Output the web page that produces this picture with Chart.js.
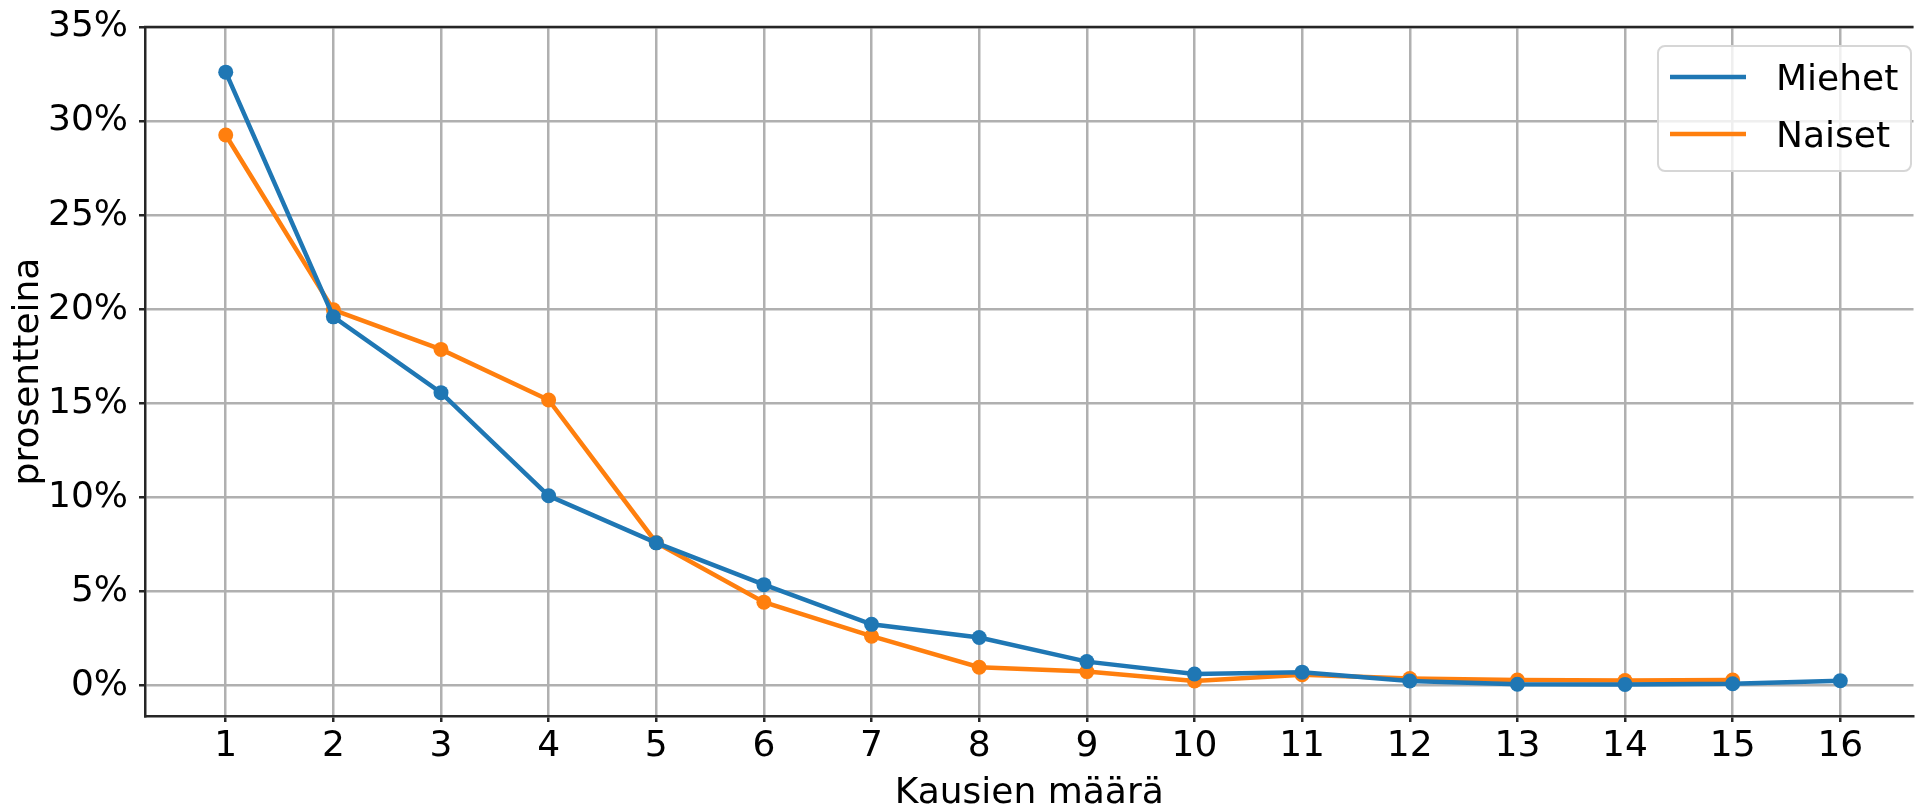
<!DOCTYPE html>
<html>
<head>
<meta charset="utf-8">
<script src="https://cdn.jsdelivr.net/npm/chart.js@4.4.1/dist/chart.umd.min.js"></script>
<style>
  html, body { margin: 0; padding: 0; background: #fff; }
  canvas { display: block; }
</style>
</head>
<body>
<canvas id="kausiChart" width="1921" height="810"></canvas>
<script>
// Kausien määrä (x) ja osuus prosentteina (y)
const kaudet = [1, 2, 3, 4, 5, 6, 7, 8, 9, 10, 11, 12, 13, 14, 15, 16];
const miehet = [32.6, 19.6, 15.57, 10.09, 7.59, 5.37, 3.26, 2.56, 1.28, 0.62, 0.72, 0.25, 0.08, 0.07, 0.1, 0.26];
const naiset = [29.26, 19.97, 17.87, 15.18, 7.6, 4.44, 2.63, 0.98, 0.75, 0.25, 0.58, 0.38, 0.3, 0.27, 0.3];
const yTicks = [0, 5, 10, 15, 20, 25, 30, 35];
const seriesLabels = ['Miehet', 'Naiset'];
const seriesColors = ['#1f77b4', '#ff7f0e'];

const FONT = '"DejaVu Sans", sans-serif';
const ctx = document.getElementById('kausiChart').getContext('2d');

function toPoints(values) {
    return values.map((v, i) => ({ x: kaudet[i], y: v }));
}

// matplotlib-style frame top line + legend box drawn on top of the lines
const frameAndLegend = {
    id: 'frameAndLegend',
    afterDraw(chart) {
        const c = chart.ctx;
        const area = chart.chartArea;
        c.save();
        c.strokeStyle = '#262626';
        c.lineWidth = 2.5;
        c.beginPath();
        c.moveTo(area.left - 1, area.top);
        c.lineTo(area.right, area.top);
        c.stroke();

        // legend
        const bx = 1658, by = 46, bw = 253, bh = 125, r = 7;
        c.beginPath();
        c.moveTo(bx + r, by);
        c.arcTo(bx + bw, by, bx + bw, by + bh, r);
        c.arcTo(bx + bw, by + bh, bx, by + bh, r);
        c.arcTo(bx, by + bh, bx, by, r);
        c.arcTo(bx, by, bx + bw, by, r);
        c.closePath();
        c.fillStyle = 'rgba(255,255,255,0.8)';
        c.fill();
        c.strokeStyle = '#d6d6d6';
        c.lineWidth = 2;
        c.stroke();

        const rows = [77, 134];
        chart.data.datasets.forEach((ds, i) => {
            c.strokeStyle = ds.borderColor;
            c.lineWidth = 4.5;
            c.beginPath();
            c.moveTo(1670, rows[i]);
            c.lineTo(1746, rows[i]);
            c.stroke();
            c.fillStyle = '#000';
            c.font = '36px ' + FONT;
            c.textBaseline = 'alphabetic';
            c.textAlign = 'left';
            c.fillText(ds.label, 1776, rows[i] + 13);
        });
        c.restore();
    }
};

const kausiChart = new Chart(ctx, {
    type: 'line',
    data: {
        datasets: [{
            label: seriesLabels[0],
            data: toPoints(miehet),
            borderColor: seriesColors[0],
            backgroundColor: seriesColors[0],
            borderWidth: 4.5,
            pointRadius: 7.5,
            pointBorderWidth: 0,
            pointBackgroundColor: seriesColors[0],
            tension: 0
        }, {
            label: seriesLabels[1],
            data: toPoints(naiset),
            borderColor: seriesColors[1],
            backgroundColor: seriesColors[1],
            borderWidth: 4.5,
            pointRadius: 7.5,
            pointBorderWidth: 0,
            pointBackgroundColor: seriesColors[1],
            tension: 0
        }]
    },
    options: {
        responsive: false,
        animation: false,
        devicePixelRatio: 1,
        layout: { padding: { top: 27, right: 0, left: 0, bottom: 0 } },
        plugins: {
            legend: { display: false },
            tooltip: { enabled: false }
        },
        scales: {
            x: {
                type: 'linear',
                min: 0.25,
                max: 16.68,
                afterFit: (scale) => {
                    scale.height = 94;
                    scale.paddingLeft = 0;
                    scale.paddingRight = 0;
                },
                afterBuildTicks: (scale) => { scale.ticks = kaudet.map(v => ({ value: v })); },
                grid: {
                    color: '#b0b0b0',
                    lineWidth: 2.5,
                    tickColor: '#262626',
                    tickLength: 6,
                    tickWidth: 2.5
                },
                border: { color: '#262626', width: 2.5 },
                ticks: {
                    color: '#000',
                    font: { family: FONT, size: 36 },
                    padding: 3,
                    maxRotation: 0,
                    autoSkip: false
                },
                title: {
                    display: true,
                    text: 'Kausien määrä',
                    color: '#000',
                    font: { family: FONT, size: 36, lineHeight: 0.9 },
                    padding: { top: 0, bottom: 0 }
                }
            },
            y: {
                min: -1.61,
                max: 35,
                afterFit: (scale) => {
                    scale.width = 145;
                    scale.paddingTop = 0;
                    scale.paddingBottom = 0;
                },
                afterBuildTicks: (scale) => { scale.ticks = yTicks.map(v => ({ value: v })); },
                grid: {
                    color: '#b0b0b0',
                    lineWidth: 2.5,
                    tickColor: '#262626',
                    tickLength: 6,
                    tickWidth: 2.5
                },
                border: { color: '#262626', width: 2.5 },
                ticks: {
                    color: '#000',
                    font: { family: FONT, size: 36 },
                    padding: 11,
                    callback: (v) => v + '%'
                },
                title: {
                    display: true,
                    text: 'prosentteina',
                    color: '#000',
                    font: { family: FONT, size: 36, lineHeight: 1 },
                    padding: { top: 11, bottom: 0 }
                }
            }
        }
    },
    plugins: [frameAndLegend]
});
</script>
</body>
</html>
